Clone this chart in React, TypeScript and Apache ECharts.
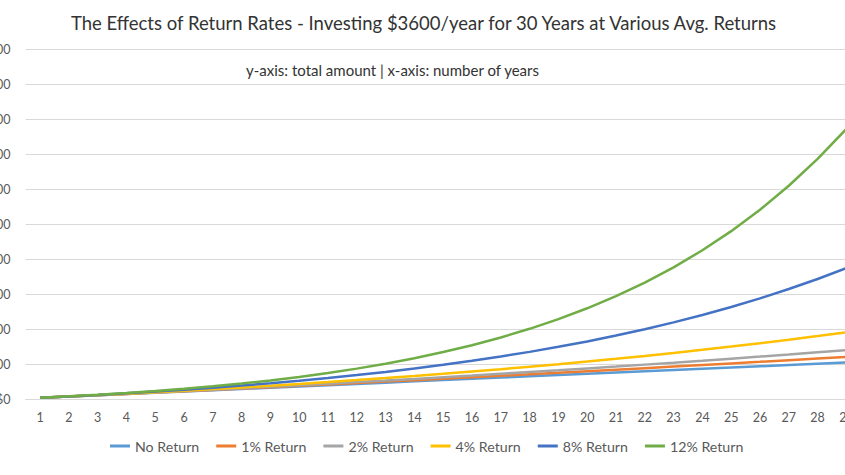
import React, { useEffect, useRef } from "react";
import * as echarts from "echarts";

const years = [
  "1", "2", "3", "4", "5", "6", "7", "8", "9", "10",
  "11", "12", "13", "14", "15", "16", "17", "18", "19", "20",
  "21", "22", "23", "24", "25", "26", "27", "28", "29", "30",
];

const noReturn = [
  3600, 7200, 10800, 14400, 18000, 21600, 25200, 28800, 32400, 36000,
  39600, 43200, 46800, 50400, 54000, 57600, 61200, 64800, 68400, 72000,
  75600, 79200, 82800, 86400, 90000, 93600, 97200, 100800, 104400, 108000,
];
const ret1 = [
  3600, 7200, 10900, 14600, 18400, 22100, 26000, 29800, 33700, 37700,
  41600, 45700, 49700, 53800, 57900, 62100, 66300, 70600, 74900, 79300,
  83700, 88100, 92600, 97100, 101700, 106300, 111000, 115700, 120400, 125200,
];
const ret2 = [
  3600, 7300, 11000, 14800, 18700, 22700, 26800, 30900, 35100, 39400,
  43800, 48300, 52800, 57500, 62300, 67100, 72000, 77100, 82200, 87500,
  92800, 98300, 103800, 109500, 115300, 121200, 127200, 133400, 139700, 146000,
];
const ret4 = [
  3600, 7300, 11200, 15300, 19500, 23900, 28400, 33200, 38100, 43200,
  48600, 54100, 59900, 65900, 72100, 78600, 85300, 92300, 99600, 107200,
  115100, 123300, 131800, 140700, 149900, 159500, 169500, 179900, 190700, 201900,
];
const ret8 = [
  3600, 7500, 11700, 16200, 21100, 26400, 32100, 38300, 45000, 52200,
  59900, 68300, 77400, 87200, 97700, 109200, 121500, 134800, 149200, 164700,
  181500, 199600, 219200, 240400, 263200, 287800, 314500, 343200, 374300, 407800,
];
const ret12 = [
  3600, 7600, 12100, 17200, 22900, 29200, 36300, 44300, 53200, 63200,
  74400, 86900, 100900, 116600, 134200, 153900, 176000, 200700, 228400, 259400,
  294100, 333000, 376600, 425400, 480000, 541200, 609700, 686500, 772500, 868800,
];

const seriesNames = ["No Return", "1% Return", "2% Return", "4% Return", "8% Return", "12% Return"];
const seriesData = [noReturn, ret1, ret2, ret4, ret8, ret12];
const colors = ["#5B9BD5", "#ED7D31", "#A5A5A5", "#FFC000", "#4472C4", "#70AD47"];

const titleText = "The Effects of Return Rates - Investing $3600/year for 30 Years at Various Avg. Returns";
const subtitleText = "y-axis: total amount | x-axis: number of years";

const FONT = "Lato, 'Liberation Sans', sans-serif";

export default function App() {
  const ref = useRef<HTMLDivElement>(null);
  useEffect(() => {
    if (!ref.current) return;
    const chart = echarts.init(ref.current, undefined, { renderer: "svg" });
    chart.setOption({
      animation: false,
      color: colors,
      textStyle: { fontFamily: FONT },
      graphic: [
        {
          type: "text",
          x: 423.5,
          y: 23,
          style: {
            text: titleText,
            fill: "#333333",
            font: `18.5px ${FONT}`,
            textAlign: "center",
            textVerticalAlign: "middle",
          },
        },
        {
          type: "text",
          x: 392.5,
          y: 70,
          style: {
            text: subtitleText,
            fill: "#333333",
            font: `15px ${FONT}`,
            textAlign: "center",
            textVerticalAlign: "middle",
          },
        },
      ],
      grid: {
        left: 25.6,
        top: 49.3,
        width: 864,
        height: 349.7,
        containLabel: false,
        outerBoundsMode: "none",
      },
      legend: {
        left: 105,
        top: 434,
        icon: "rect",
        itemWidth: 20,
        itemHeight: 3,
        itemGap: 17,
        textStyle: { color: "#595959", fontSize: 14.2, fontFamily: FONT },
        data: seriesNames,
      },
      xAxis: {
        type: "category",
        data: years,
        boundaryGap: true,
        axisLine: { show: true, lineStyle: { color: "#d9d9d9", width: 1 } },
        axisTick: { show: false },
        axisLabel: { color: "#595959", fontSize: 12.5, margin: 12, interval: 0, fontFamily: FONT },
      },
      yAxis: {
        type: "value",
        min: 0,
        max: 1000000,
        interval: 100000,
        axisLine: { show: false },
        axisTick: { show: false },
        splitLine: { lineStyle: { color: "#d9d9d9", width: 1 } },
        axisLabel: {
          color: "#595959",
          fontSize: 12.5,
          margin: 15,
          fontFamily: FONT,
          formatter: (v: number) => "$" + v.toLocaleString("en-US"),
        },
      },
      series: seriesNames.map((name, i) => ({
        name,
        type: "line",
        data: seriesData[i],
        showSymbol: false,
        symbol: "none",
        lineStyle: { width: 2.5, color: colors[i] },
        itemStyle: { color: colors[i] },
      })),
    });
    return () => chart.dispose();
  }, []);
  return (
    <div style={{ position: "fixed", left: 0, top: 0, width: 845, height: 475, overflow: "hidden", background: "#fff" }}>
      <div ref={ref} style={{ position: "absolute", left: 0, top: 0, width: 920, height: 475 }} />
    </div>
  );
}
